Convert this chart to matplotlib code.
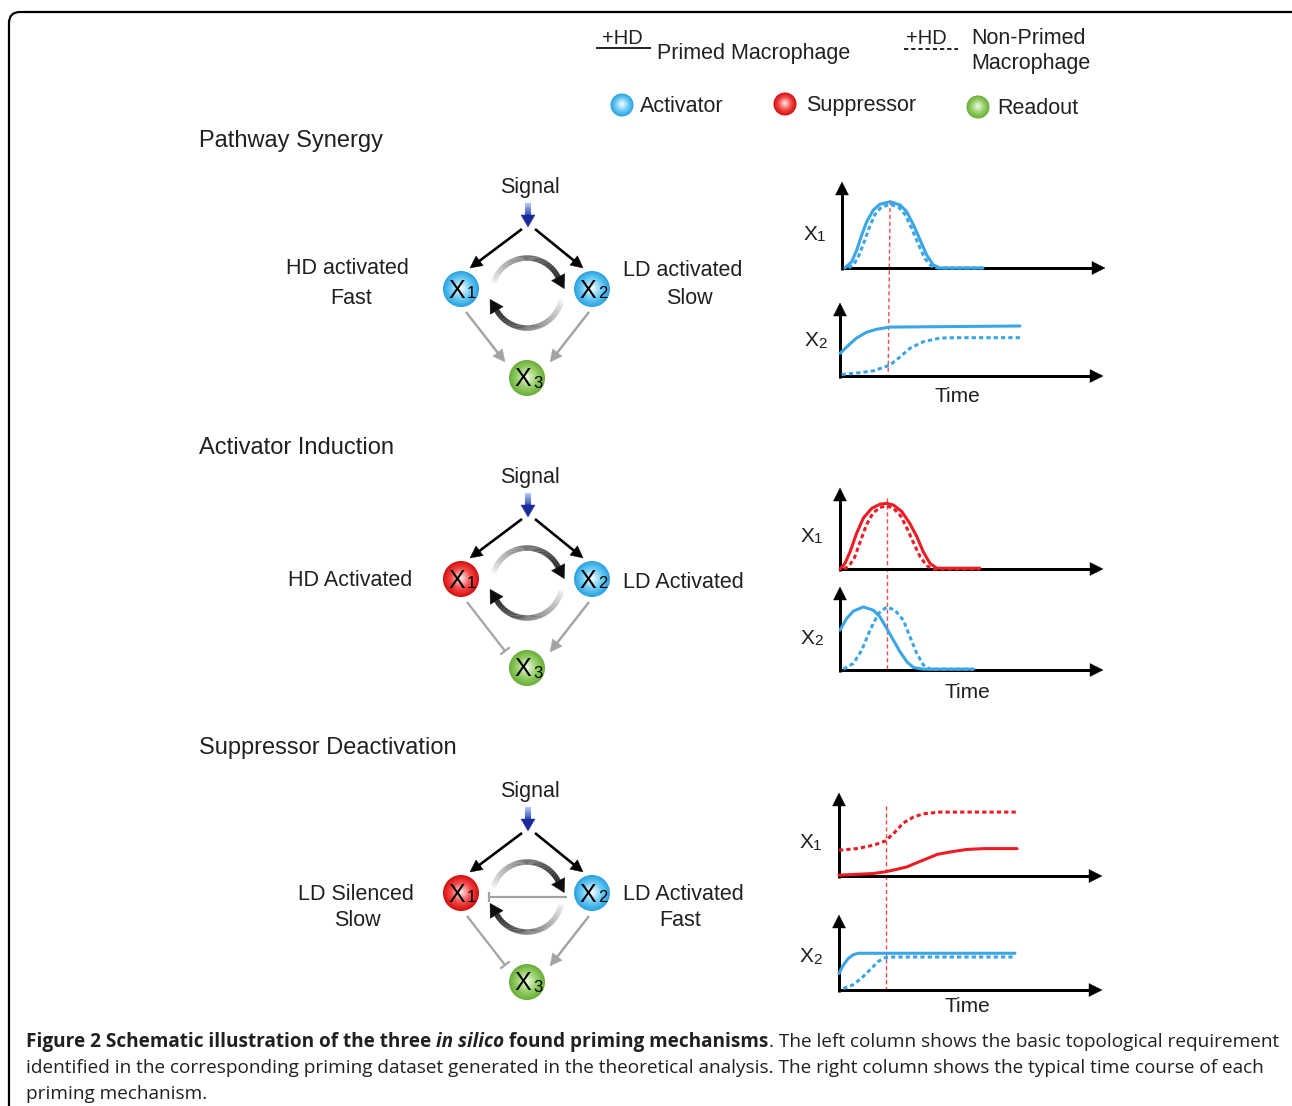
import numpy as np
import matplotlib
matplotlib.use('Agg')
import matplotlib.pyplot as plt
from matplotlib.collections import LineCollection
from matplotlib.patches import Circle, Polygon, FancyBboxPatch
import matplotlib.colors as mcolors

plt.rcParams['font.family'] = ['Liberation Sans', 'DejaVu Sans']

W, H = 1292, 1106

# ---------------- data: time courses (time and level in % of axis length) ----------------
# Pathway Synergy
syn_x1_t_primed = [1.1, 3.7, 5.6, 7.5, 9.4, 11.9, 14.4, 18.3, 22.1, 24.6, 27.2, 29.7, 32.2, 34.7, 37.3, 53.6]
syn_x1_primed = [0, 7.3, 20.9, 38.4, 53.9, 67.4, 74.1, 77.1, 73.3, 65.5, 50, 32.6, 15.1, 3.5, 0, 0]
syn_x1_t_nonprimed = [2.5, 4.5, 6.5, 8.5, 10.5, 12.5, 15, 18.3, 21.5, 24, 26.5, 29, 31.5, 34, 36.5, 53.6]
syn_x1_nonprimed = [0, 4, 15, 31, 48, 62, 71, 74, 71, 62, 46, 28, 11, 2, 0, 0]
syn_x2_t_primed = [0, 3.2, 6.3, 10.1, 13.9, 19, 68.4]
syn_x2_primed = [31, 42, 52, 60, 64, 67, 68.5]
syn_x2_t_nonprimed = [0.6, 6.3, 12.7, 19, 22.8, 26.6, 31.7, 38, 44.4, 68.4]
syn_x2_nonprimed = [2, 4, 7, 15, 26, 38, 47, 52, 52.5, 52.5]
syn_marker_t = 18.3

# Activator Induction
ind_x1_t_primed = [0, 1.9, 3.8, 6.3, 8.9, 12.1, 15.2, 17.8, 20.3, 23.5, 26.6, 29.2, 31.7, 34.2, 36.8, 53.2]
ind_x1_primed = [0, 7, 21, 44, 63, 75, 80, 81, 79, 71, 56, 40, 21, 7, 1, 1]
ind_x1_t_nonprimed = [1.5, 3.5, 5.5, 7.5, 10, 12.5, 15.2, 17.8, 20.3, 23, 25.5, 28, 30.5, 33, 35.5, 53.2]
ind_x1_nonprimed = [0, 4, 14, 32, 54, 69, 76, 78, 75, 66, 50, 32, 15, 4, 0, 0]
ind_x2_t_primed = [0, 2.5, 5.1, 8.9, 12.7, 15.2, 17.8, 20.3, 22.8, 25.4, 27.9, 31.7, 50.7]
ind_x2_primed = [48, 62, 71, 76, 72, 64, 50, 36, 22, 10, 3, 1, 1]
ind_x2_t_nonprimed = [1.3, 5.1, 8.3, 11.4, 14.6, 17.8, 20.9, 24.1, 26.6, 29.2, 31.7, 34.2, 50.7]
ind_x2_nonprimed = [1, 8, 24, 48, 68, 76, 72, 60, 40, 20, 6, 1, 1]
ind_marker_t = 17.9

# Suppressor Deactivation
sup_x1_t_primed = [0, 6.7, 13, 17.5, 21.9, 25.8, 29.6, 33.5, 37.3, 42.4, 48.7, 55, 67.7]
sup_x1_primed = [1, 2, 3, 5, 8, 11, 16, 21, 26, 29, 32, 33, 33]
sup_x1_t_nonprimed = [0, 6.7, 13, 17.5, 20.7, 24.5, 28.3, 32.1, 38.4, 67.7]
sup_x1_nonprimed = [31, 33, 37, 42, 51, 64, 71, 75, 77, 77]
sup_x2_t_primed = [0, 1.6, 3.5, 5.4, 7.3, 66.9]
sup_x2_primed = [22, 33, 42, 47, 49, 49]
sup_x2_t_nonprimed = [1.6, 5.4, 8.6, 11.8, 14.9, 17.5, 20.6, 66.9]
sup_x2_nonprimed = [2, 7, 16, 27, 38, 43, 44, 44]
sup_marker_t = 17.9

section_titles = ["Pathway Synergy", "Activator Induction", "Suppressor Deactivation"]
legend_entries = ["Activator", "Suppressor", "Readout"]

BLUE = '#3aa6e6'
RED = '#ec1c24'
GRAY = '#a3a3a3'
TXT = '#231f20'

fig = plt.figure(figsize=(W / 100, H / 100), dpi=100)
ax = fig.add_axes([0, 0, 1, 1])
ax.set_xlim(0, W)
ax.set_ylim(H, 0)
ax.axis('off')

PT = 72 / 100.0  # px -> pt
DY_TXT = 2.0


def txt(x, y, s, size=15.5, ha='center', color=TXT, **kw):
    return ax.text(x, y + DY_TXT, s, fontsize=size, ha=ha, va='center', color=color, **kw)


def mix(c1, c2, f):
    a = np.array(mcolors.to_rgb(c1)); b = np.array(mcolors.to_rgb(c2))
    return tuple(a + (b - a) * f)


def arrow(p0, p1, color, lw_px, hl, hw, z=3):
    p0 = np.array(p0, float); p1 = np.array(p1, float)
    d = p1 - p0; u = d / np.hypot(*d); n = np.array([-u[1], u[0]])
    base = p1 - u * hl
    e = base + u * 1.0
    ax.plot([p0[0], e[0]], [p0[1], e[1]], color=color, lw=lw_px * PT,
            solid_capstyle='butt', zorder=z)
    ax.add_patch(Polygon([p1, base + n * hw, base - n * hw], closed=True,
                         fc=color, ec=color, lw=0.3, zorder=z))


def tbar(p0, p1, color, lw_px, half=6, z=3):
    p0 = np.array(p0, float); p1 = np.array(p1, float)
    d = p1 - p0; u = d / np.hypot(*d); n = np.array([-u[1], u[0]])
    ax.plot([p0[0], p1[0]], [p0[1], p1[1]], color=color, lw=lw_px * PT,
            solid_capstyle='butt', zorder=z)
    a = p1 + n * half; b = p1 - n * half
    ax.plot([a[0], b[0]], [a[1], b[1]], color=color, lw=lw_px * PT,
            solid_capstyle='butt', zorder=z)


SPHERE = {
    'blue': ('#2aa3e2', '#6ccbf4', '#eef9fe'),
    'red': ('#d41010', '#f54848', '#ffdcdc'),
    'green': ('#6aae3a', '#97d068', '#e8f7da'),
}


def sphere(cx, cy, r, kind, z=5):
    edge, mid, cen = SPHERE[kind]
    n = 28
    for i in range(n):
        f = i / (n - 1)
        rr = r * (1 - 0.93 * f)
        col = mix(edge, mid, f / 0.45) if f < 0.45 else mix(mid, cen, (f - 0.45) / 0.55)
        ax.add_patch(Circle((cx, cy - 1.0 * f), rr, fc=col, ec='none', zorder=z))


def node(cx, cy, kind, idx):
    sphere(cx, cy, 18, kind)
    ax.text(cx - 4, cy + 1.5, 'X', fontsize=18, ha='center', va='center', color='black', zorder=6)
    ax.text(cx + 10.5, cy + 5, str(idx), fontsize=12, ha='center', va='center', color='black', zorder=6)


def grad_arc(cx, cy, r, a0, a1, light, dark, lw_px=5.5, hl=13, hw=7.5, z=4):
    th = np.radians(np.linspace(a0, a1, 90))
    x = cx + r * np.cos(th); y = cy - r * np.sin(th)
    pts = np.column_stack([x, y])
    segs = np.stack([pts[:-1], pts[1:]], axis=1)
    fr = np.linspace(0, 1, len(segs)) ** 0.8
    cols = [mix(light, dark, f) for f in fr]
    ax.add_collection(LineCollection(segs, colors=cols, linewidths=lw_px * PT,
                                     capstyle='butt', zorder=z))
    p = pts[-1]; u = pts[-1] - pts[-2]; u = u / np.hypot(*u); n = np.array([-u[1], u[0]])
    ax.add_patch(Polygon([p + u * hl, p + n * hw, p - n * hw], closed=True,
                         fc=dark, ec=dark, lw=0.3, zorder=z))


def signal(cx, y_text, y0, y1):
    txt(cx + 2, y_text, 'Signal')
    ys = np.linspace(y0, y1 - 10, 12)
    for i in range(len(ys) - 1):
        ax.plot([cx, cx], [ys[i], ys[i + 1] + 0.5], color=mix('#a9c8f0', '#2a3fb0', i / 10),
                lw=6 * PT, solid_capstyle='butt', zorder=3)
    ax.add_patch(Polygon([(cx, y1), (cx - 7, y1 - 12), (cx + 7, y1 - 12)], closed=True,
                         fc='#1c2a9c', ec='#1c2a9c', lw=0.3, zorder=3))


def network(dy, k1, k2, inhib13=False, inhib21=False):
    x1 = (461, 289 + dy); x2 = (592, 289 + dy); x3 = (527, 378 + dy)
    signal(528, 186 + dy, 203 + dy, 227 + dy)
    arrow((522, 229 + dy), (470, 268 + dy), 'black', 2.6, 12, 6)
    arrow((535, 229 + dy), (583, 268 + dy), 'black', 2.6, 12, 6)
    grad_arc(527, 293 + dy, 35, 164, 27, '#f6f6f6', '#0d0d0d')
    grad_arc(527, 293 + dy, 35, -11, -150, '#f6f6f6', '#0d0d0d')
    if inhib13:
        tbar((467, 312 + dy), (505, 361 + dy), GRAY, 2.2)
    else:
        arrow((466, 312 + dy), (505, 362 + dy), GRAY, 2.4, 12, 6)
    arrow((589, 312 + dy), (550, 362 + dy), GRAY, 2.4, 12, 6)
    if inhib21:
        tbar((567, 293 + dy), (489, 293 + dy), GRAY, 2.2, half=5, z=5)
    node(*x1, k1, 1)
    node(*x2, k2, 2)
    node(*x3, 'green', 3)


# ---------------- border ----------------
ax.add_patch(FancyBboxPatch((9, 12), 1300, 1120, boxstyle='round,pad=0,rounding_size=11',
                            fc='none', ec='black', lw=1.6, zorder=1))

# ---------------- legend ----------------
txt(622, 37, '+HD', size=14.5)
ax.plot([597, 650], [48, 48], color=TXT, lw=1.4)
txt(657, 52, 'Primed Macrophage', ha='left')
txt(926, 37, '+HD', size=14.5)
ax.plot([904, 958], [49, 49], color=TXT, lw=1.4, ls=(0, (2.2, 1.5)))
txt(971, 36, 'Non-Primed', ha='left')
txt(971, 62, 'Macrophage', ha='left')
for (cx, cy, kind, tx), lab in zip([(622, 105, 'blue', 640), (785, 104, 'red', 806),
                                    (978, 107, 'green', 997)], legend_entries):
    sphere(cx, cy, 11.5, kind)
    txt(tx, cy, lab, ha='left')

# ---------------- section titles ----------------
for y, t in zip([139, 446, 746], section_titles):
    txt(199, y, t, size=17, ha='left')

# ---------------- networks ----------------
network(0, 'blue', 'blue')
txt(347, 266, 'HD activated')
txt(351, 297, 'Fast')
txt(683, 268, 'LD activated')
txt(689, 297, 'Slow')

network(290, 'red', 'blue', inhib13=True)
txt(350, 578, 'HD Activated')
txt(683, 580, 'LD Activated')

network(604, 'red', 'blue', inhib13=True, inhib21=True)
txt(356, 893, 'LD Silenced')
txt(357, 919, 'Slow')
txt(683, 893, 'LD Activated')
txt(680, 919, 'Fast')


# ---------------- time course panels ----------------
def course_axes(l, r, b, t, label_xy, sub):
    a = fig.add_axes([l / W, 1 - b / H, (r - l) / W, (b - t) / H])
    a.set_xlim(0, 100); a.set_ylim(0, 100); a.axis('off'); a.patch.set_alpha(0)
    arrow((l - 1.5, b), (r, b), 'black', 3, 13, 6.5, z=2)
    arrow((l, b + 1.5), (l, t), 'black', 3, 13, 6.5, z=2)
    lx, ly = label_xy
    ax.text(lx, ly + 1, 'X', fontsize=15, ha='center', va='center', color=TXT)
    ax.text(lx + 11.5, ly + 4, sub, fontsize=11, ha='center', va='center', color=TXT)
    return a


def curves(a, tp, yp, tn, yn, color):
    a.plot(tp, yp, color=color, lw=2.2, clip_on=False, solid_capstyle='round',
           solid_joinstyle='round')
    a.plot(tn, yn, color=color, lw=2.2, ls=(0, (1.4, 1.0)), clip_on=False)


def marker_line(a_top, a_bot, t, ytop):
    inv = ax.transData.inverted()
    p_top = inv.transform(a_top.transData.transform((t, ytop)))
    p_bot = inv.transform(a_bot.transData.transform((t, 0)))
    ax.plot([p_top[0], p_bot[0]], [p_top[1], p_bot[1]], color='#f04a4a', lw=1.0,
            ls=(0, (3, 2)), zorder=1.5)


a = course_axes(842, 1105, 268, 182, (810, 233), '1')
curves(a, syn_x1_t_primed, syn_x1_primed, syn_x1_t_nonprimed, syn_x1_nonprimed, BLUE)
b = course_axes(840, 1103, 376, 303, (811, 340), '2')
curves(b, syn_x2_t_primed, syn_x2_primed, syn_x2_t_nonprimed, syn_x2_nonprimed, BLUE)
marker_line(a, b, syn_marker_t, 78)
txt(957, 395, 'Time', size=15)

a = course_axes(840, 1103, 569, 488, (807, 535), '1')
curves(a, ind_x1_t_primed, ind_x1_primed, ind_x1_t_nonprimed, ind_x1_nonprimed, RED)
b = course_axes(840, 1103, 670, 587, (807, 637), '2')
curves(b, ind_x2_t_primed, ind_x2_primed, ind_x2_t_nonprimed, ind_x2_nonprimed, BLUE)
marker_line(a, b, ind_marker_t, 88)
txt(967, 690, 'Time', size=15)

a = course_axes(839, 1102, 876, 793, (806, 842), '1')
curves(a, sup_x1_t_primed, sup_x1_primed, sup_x1_t_nonprimed, sup_x1_nonprimed, RED)
b = course_axes(839, 1102, 990, 915, (806, 956), '2')
curves(b, sup_x2_t_primed, sup_x2_primed, sup_x2_t_nonprimed, sup_x2_nonprimed, BLUE)
marker_line(a, b, sup_marker_t, 84)
txt(967, 1005, 'Time', size=15)

# ---------------- caption ----------------
cap_lines = [
    [("Figure 2 Schematic illustration of the three ", 'bold', 'normal'),
     ("in silico", 'bold', 'italic'),
     (" found priming mechanisms", 'bold', 'normal'),
     (". The left column shows the basic topological requirement", 'normal', 'normal')],
    [("identified in the corresponding priming dataset generated in the theoretical analysis. "
      "The right column shows the typical time course of each", 'normal', 'normal')],
    [("priming mechanism.", 'normal', 'normal')],
]
cap_y = [1047, 1073, 1099]
renderer = fig.canvas.get_renderer()


def place(segs, x0, y, size):
    objs = []
    x = x0
    for s, w, st in segs:
        t = ax.text(x, y, s, fontsize=size, fontweight=w, fontstyle=st, ha='left',
                    va='baseline', color=TXT, family=['Open Sans', 'DejaVu Sans'])
        bb = t.get_window_extent(renderer)
        x += bb.width
        objs.append(t)
    return objs, x - x0


objs, wdt = place(cap_lines[0], 26, cap_y[0], 12)
size = 12 * 1251 / wdt
for o in objs:
    o.remove()
for segs, y in zip(cap_lines, cap_y):
    place(segs, 26, y, size)

fig.savefig('out.png', dpi=100)
